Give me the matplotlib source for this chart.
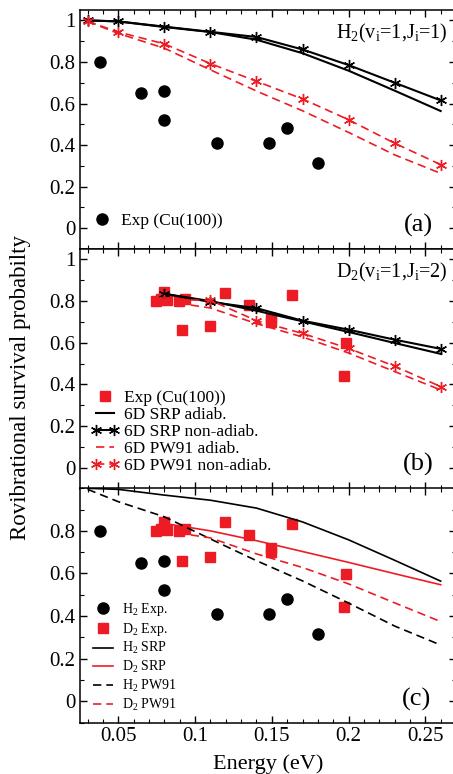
import matplotlib.pyplot as plt
from matplotlib.ticker import MultipleLocator, FixedLocator, FuncFormatter
from matplotlib.legend_handler import HandlerLine2D

plt.rcParams['font.family'] = ['Liberation Serif', 'DejaVu Serif']
plt.rcParams['mathtext.fontset'] = 'custom'
plt.rcParams['mathtext.rm'] = 'Liberation Serif'
plt.rcParams['mathtext.it'] = 'Liberation Serif:italic'

RED = '#ed1c24'

# theory energies (eV)
e_h2 = [0.03, 0.05, 0.08, 0.11, 0.14, 0.17, 0.2, 0.23, 0.26]
e_d2 = [0.08, 0.11, 0.14, 0.17, 0.2, 0.23, 0.26]

# H2 (v=1, J=1)
h2_srp_ad = [1.0, 0.995, 0.968, 0.944, 0.907, 0.842, 0.758, 0.662, 0.564]
h2_srp_na = [1.0, 0.995, 0.97, 0.945, 0.92, 0.86, 0.785, 0.70, 0.615]
h2_pw_ad = [0.995, 0.937, 0.866, 0.762, 0.66, 0.565, 0.461, 0.353, 0.264]
h2_pw_na = [0.995, 0.944, 0.887, 0.792, 0.707, 0.622, 0.522, 0.409, 0.306]

# D2 (v=1, J=2)
d2_srp_ad = [0.835, 0.80, 0.754, 0.703, 0.652, 0.599, 0.547]
d2_srp_na = [0.835, 0.796, 0.766, 0.706, 0.663, 0.615, 0.571]
d2_pw_ad = [0.80, 0.767, 0.692, 0.628, 0.551, 0.462, 0.374]
d2_pw_na = [0.807, 0.804, 0.706, 0.645, 0.573, 0.488, 0.390]

# experiments, Cu(100)
h2_exp_e = [0.038, 0.065, 0.08, 0.08, 0.114, 0.148, 0.16, 0.18]
h2_exp_p = [0.80, 0.65, 0.66, 0.52, 0.41, 0.41, 0.48, 0.315]
d2_exp_e = [0.0746, 0.078, 0.08, 0.082, 0.0896, 0.0935, 0.0916, 0.1096,
            0.1195, 0.1348, 0.1495, 0.1495, 0.1634, 0.1985, 0.197]
d2_exp_p = [0.80, 0.81, 0.843, 0.805, 0.80, 0.81, 0.66, 0.679,
            0.84, 0.783, 0.719, 0.70, 0.83, 0.599, 0.441]

star = dict(marker=(6, 2, 0), markersize=8, markeredgewidth=1.0)
dash = (0, (5, 3))

fig = plt.figure(figsize=(4.53, 7.74), dpi=100)
left, width = 80 / 453, 376 / 453
ax_a = fig.add_axes([left, 1 - 249 / 774, width, 239 / 774])
ax_b = fig.add_axes([left, 1 - 488.7 / 774, width, 239.7 / 774])
ax_c = fig.add_axes([left, 1 - 722.5 / 774, width, 234.2 / 774])

fmt = FuncFormatter(lambda v, p: ('%g' % round(v, 3)))

for ax in (ax_a, ax_b, ax_c):
    ax.set_xlim(0.025, 0.27)
    ax.xaxis.set_major_locator(MultipleLocator(0.05))
    ax.xaxis.set_minor_locator(MultipleLocator(0.01))
    ax.yaxis.set_major_locator(MultipleLocator(0.2))
    ax.yaxis.set_minor_locator(MultipleLocator(0.1))
    ax.xaxis.set_major_formatter(fmt)
    ax.yaxis.set_major_formatter(fmt)
    ax.tick_params(which='both', direction='in', top=True, right=True, labelsize=15)
    ax.tick_params(which='major', length=5, width=1)
    ax.tick_params(which='minor', length=3, width=0.8)
    for s in ax.spines.values():
        s.set_linewidth(1.1)

ax_a.set_ylim(-0.1, 1.05)
ax_b.set_ylim(-0.1, 1.05)
ax_c.set_ylim(-0.1, 1.0)
ax_c.yaxis.set_major_locator(FixedLocator([0, 0.2, 0.4, 0.6, 0.8]))
ax_a.tick_params(labelbottom=False)
ax_b.tick_params(labelbottom=False)

# panel (a)
ax_a.plot(h2_exp_e, h2_exp_p, 'o', color='black', markersize=8, label='Exp (Cu(100))')
ax_a.plot(e_h2, h2_srp_ad, '-', color='black', lw=1.5)
ax_a.plot(e_h2, h2_srp_na, '-', color='black', lw=1.5, **star)
ax_a.plot(e_h2, h2_pw_ad, linestyle=dash, color=RED, lw=1.2)
ax_a.plot(e_h2, h2_pw_na, linestyle=dash, color=RED, lw=1.2, **star)
ax_a.legend(loc='lower left', bbox_to_anchor=(0.022, 0.085), frameon=False, fontsize=12.5,
            handlelength=1.6, handletextpad=0.3, borderpad=0, borderaxespad=0)
ax_a.text(0.977, 0.95, 'H$_2$(v$_\\mathrm{i}$=1,J$_\\mathrm{i}$=1)', transform=ax_a.transAxes,
          ha='right', va='top', fontsize=14.5)
ax_a.text(0.9, 0.1, '(a)', transform=ax_a.transAxes, ha='center', va='center', fontsize=19)

# panel (b)
ax_b.plot(d2_exp_e, d2_exp_p, 's', color=RED, markersize=7, label='Exp (Cu(100))')
ax_b.plot(e_d2, d2_srp_ad, '-', color='black', lw=1.5, label='6D SRP adiab.')
ax_b.plot(e_d2, d2_srp_na, '-', color='black', lw=1.5, label='6D SRP non-adiab.', **star)
ax_b.plot(e_d2, d2_pw_ad, linestyle=dash, color=RED, lw=1.2, label='6D PW91 adiab.')
ax_b.plot(e_d2, d2_pw_na, linestyle=dash, color=RED, lw=1.2, label='6D PW91 non-adiab.', **star)
h, l = ax_b.get_legend_handles_labels()
ax_b.legend(h, l, loc='lower left', bbox_to_anchor=(0.03, 0.06), frameon=False, fontsize=12.5,
            handlelength=1.6, handletextpad=0.3, borderpad=0, borderaxespad=0,
            labelspacing=0.05, numpoints=2,
            handler_map={h[0]: HandlerLine2D(numpoints=1)})
ax_b.text(0.977, 0.95, 'D$_2$(v$_\\mathrm{i}$=1,J$_\\mathrm{i}$=2)', transform=ax_b.transAxes,
          ha='right', va='top', fontsize=14.5)
ax_b.text(0.9, 0.1, '(b)', transform=ax_b.transAxes, ha='center', va='center', fontsize=19)

# panel (c)
ax_c.plot(h2_exp_e, h2_exp_p, 'o', color='black', markersize=8, label='H$_2$ Exp.')
ax_c.plot(d2_exp_e, d2_exp_p, 's', color=RED, markersize=7, label='D$_2$ Exp.')
ax_c.plot(e_h2, h2_srp_ad, '-', color='black', lw=1.2, label='H$_2$ SRP')
ax_c.plot(e_d2, d2_srp_ad, '-', color=RED, lw=1.2, label='D$_2$ SRP')
ax_c.plot(e_h2, h2_pw_ad, linestyle=dash, color='black', lw=1.2, label='H$_2$ PW91')
ax_c.plot(e_d2, d2_pw_ad, linestyle=dash, color=RED, lw=1.2, label='D$_2$ PW91')
ax_c.legend(loc='lower left', bbox_to_anchor=(0.035, 0.04), frameon=False, fontsize=10,
            handlelength=1.4, handletextpad=0.7, borderpad=0, borderaxespad=0,
            labelspacing=0.2)
ax_c.text(0.895, 0.1, '(c)', transform=ax_c.transAxes, ha='center', va='center', fontsize=19)
ax_c.set_xlabel('Energy (eV)', fontsize=16, labelpad=6)

fig.text(0.045, 0.5, 'Rovibrational survival probabilty', rotation=90,
         ha='center', va='center', fontsize=16.5)

fig.savefig('out.png', dpi=100)
